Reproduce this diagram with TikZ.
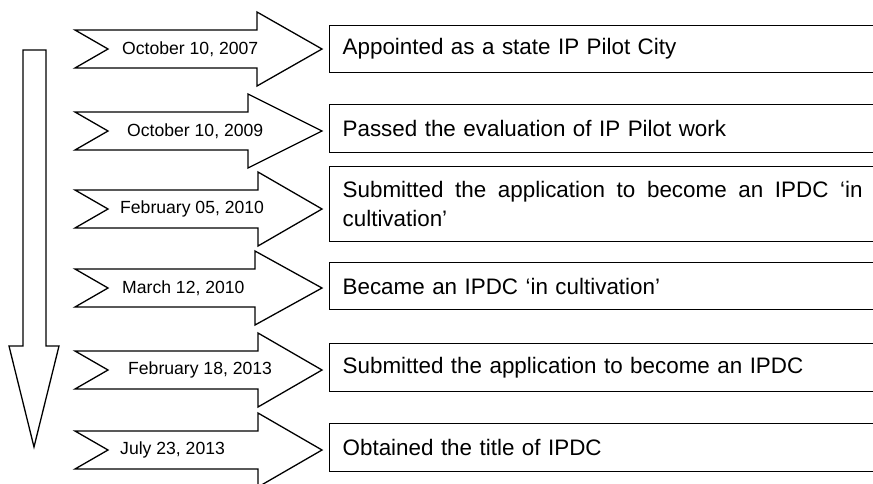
\documentclass[tikz,border=0pt]{standalone}
\usepackage{fontspec}
\setmainfont{Liberation Sans}
\usepackage{tikz}
\usetikzlibrary{positioning}
\tikzset{
  datearrow/.style={draw=black, fill=white, line width=1.3pt, line join=miter},
  datelabel/.style={font=\fontsize{17.6}{21}\selectfont, anchor=west, inner sep=0pt},
  eventbox/.style={draw=black, line width=1.3pt, anchor=north west, text width=520pt,
                   align=left, inner xsep=13pt, inner ysep=0pt,
                   font=\fontsize{22.4}{29}\selectfont},
}
% #1 = centre y, #2 = x where the head starts
\newcommand{\timearrow}[2]{%
  \draw[datearrow] (75,#1-19) -- (#2,#1-19) -- (#2,#1-37) -- (322,#1)
    -- (#2,#1+37) -- (#2,#1+19) -- (75,#1+19) -- (108,#1) -- cycle;}

\begin{document}
\begin{tikzpicture}[x=1pt, y=-1pt]
  \useasboundingbox (0,0) rectangle (873,483);

  % time runs downwards
  \draw[datearrow] (23,50) -- (46,50) -- (46,346) -- (59,346) -- (34,447)
    -- (9,346) -- (23,346) -- cycle;

  \timearrow{49}{257}
  \timearrow{131}{248}
  \timearrow{209}{258}
  \timearrow{288}{255}
  \timearrow{370}{258}
  \timearrow{450}{258}

  \node[datelabel] (date1) at (122,49) {October 10, 2007};
  \node[datelabel] (date2) at (127,131) {October 10, 2009};
  \node[datelabel] (date3) at (120,209) {February 05, 2010};
  \node[datelabel] (date4) at (122,288) {March 12, 2010};
  \node[datelabel] (date5) at (128,370) {February 18, 2013};
  \node[datelabel] (date6) at (120,450) {July 23, 2013};

  \node[eventbox, minimum height=47pt] (event1) at (329,25) {Appointed as a state IP Pilot City};
  \node[eventbox, minimum height=48pt] (event2) at (329,104) {Passed the evaluation of IP Pilot work};
  \node[eventbox, minimum height=75pt, align=justify] (event3) at (329,166)
    {Submitted the application to become an IPDC ‘in\linebreak cultivation’};
  \node[eventbox, minimum height=47pt] (event4) at (329,262) {Became an IPDC ‘in cultivation’};
  \node[eventbox, minimum height=48pt] (event5) at (329,343) {Submitted the application to become an IPDC};
  \node[eventbox, minimum height=48pt] (event6) at (329,423) {Obtained the title of IPDC};

\end{tikzpicture}
\end{document}
